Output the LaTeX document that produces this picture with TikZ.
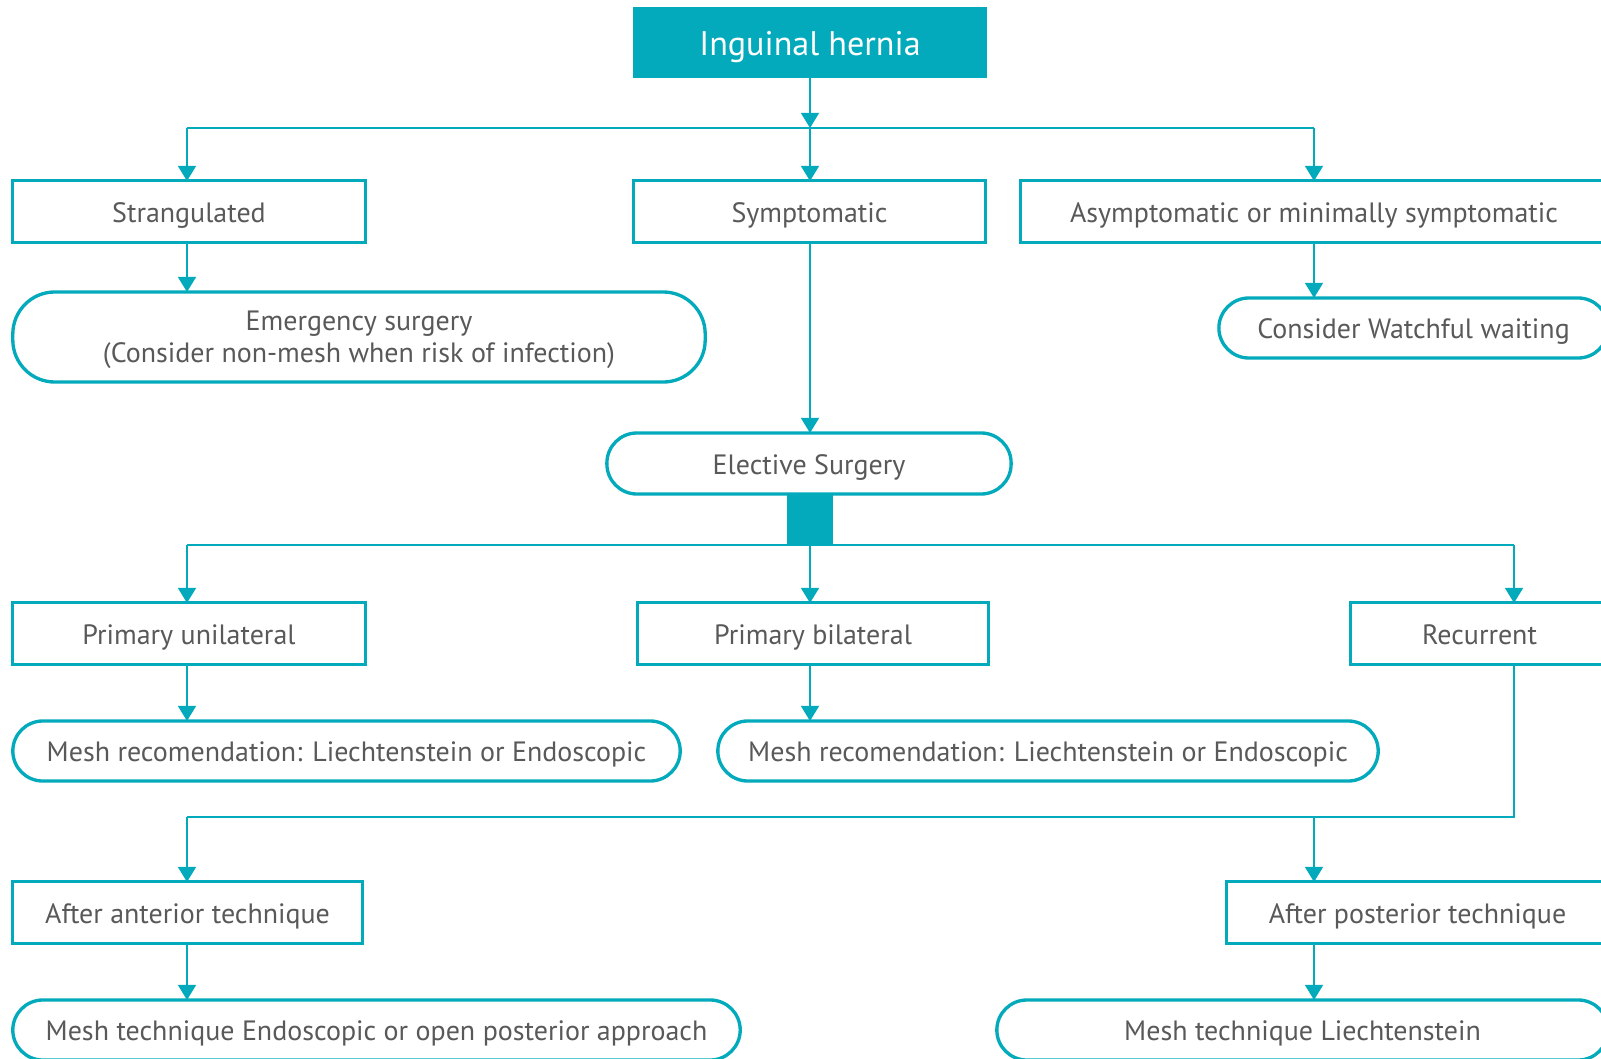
\documentclass[tikz,border=0pt]{standalone}
\usepackage{fontspec}
\setmainfont{PT Sans}
\usetikzlibrary{arrows.meta}
\definecolor{hteal}{RGB}{3,170,187}
\definecolor{hgray}{RGB}{89,89,89}

\begin{document}
\begin{tikzpicture}[x=0.01cm, y=-0.01cm,
  every node/.style={font=\fontsize{7.95}{9.1}\selectfont, text=hgray, inner sep=0pt, outer sep=0pt, text height=0.72em, text depth=0.12em},
  box/.style={draw=hteal, line width=0.85pt, minimum height=0.61cm},
  pill/.style={draw=hteal, line width=0.95pt, rounded corners=0.3cm, minimum height=0.6cm},
  arr/.style={draw=hteal, line width=0.6pt, -{Triangle[width=5.1pt, length=4.3pt]}},
  link/.style={draw=hteal, line width=0.6pt}]
  \useasboundingbox (0,0) rectangle (1601,1058);
  \clip (0,0) rectangle (1601,1058);
  \fill[white] (0,0) rectangle (1601,1058);

  % top
  \node [fill=hteal, minimum width=3.54cm, minimum height=0.71cm, text=white, font=\fontsize{9.7}{12}\selectfont, text depth=0pt] (hernia) at (810, 42.5) {Inguinal hernia};
  \node [box, minimum width=3.52cm] (strang) at (189, 211.5) {Strangulated};
  \node [box, minimum width=3.51cm] (sympt) at (809.5, 211.5) {Symptomatic};
  \node [box, minimum width=5.86cm] (asympt) at (1314, 211.5) {Asymptomatic or minimally symptomatic};
  \node [pill, minimum width=6.92cm, minimum height=0.9cm, rounded corners=0.42cm, align=center, text height=, text depth=0.3pt] (emerg) at (359, 337) {Emergency surgery\\(Consider non-mesh when risk of infection)};
  \node [pill, minimum width=3.89cm] (watch) at (1413.5, 328) {Consider Watchful waiting};
  \node [pill, minimum width=4.04cm, minimum height=0.61cm] (elect) at (809, 463.5) {Elective Surgery};
  \node [fill=hteal, minimum width=0.46cm, minimum height=0.51cm] (knot) at (810, 519.5) {};

  % elective branches
  \node [box, minimum width=3.52cm] (unilat) at (189, 633.5) {Primary unilateral};
  \node [box, minimum width=3.50cm] (bilat) at (813, 633.5) {Primary bilateral};
  \node [box, minimum width=2.57cm] (recur) at (1479.5, 633.5) {Recurrent};
  \node [pill, minimum width=6.67cm] (meshA) at (346.5, 751) {Mesh recomendation: Liechtenstein or Endoscopic};
  \node [pill, minimum width=6.60cm] (meshB) at (1048, 751) {Mesh recomendation: Liechtenstein or Endoscopic};

  % recurrent
  \node [box, minimum width=3.49cm] (anter) at (187.5, 912.5) {After anterior technique};
  \node [box, minimum width=3.81cm] (poster) at (1417.5, 912.5) {After posterior technique};
  \node [pill, minimum width=7.27cm] (endo) at (376.5, 1030) {Mesh technique Endoscopic or open posterior approach};
  \node [pill, minimum width=6.11cm] (liecht) at (1302.5, 1030) {Mesh technique Liechtenstein};

  \coordinate (busA) at (187, 128);
  \coordinate (busB) at (1314, 128);
  \coordinate (busC) at (187, 545);
  \coordinate (busD) at (1514, 545);
  \coordinate (busE) at (187, 817);

  \draw [arr] (hernia) -- (hernia |- busA);
  \draw [link] (busA) -- (busB);
  \draw [arr] (busA) -- (busA |- strang.north);
  \draw [arr] (hernia |- busA) -- (hernia |- sympt.north);
  \draw [arr] (busB) -- (busB |- asympt.north);
  \draw [arr] (busA |- strang.south) -- (busA |- emerg.north);
  \draw [arr] (busB |- asympt.south) -- (busB |- watch.north);
  \draw [arr] (hernia |- sympt.south) -- (hernia |- elect.north);

  \draw [link] (busC) -- (busD);
  \draw [arr] (busC) -- (busC |- unilat.north);
  \draw [arr] (knot.south) -- (knot |- bilat.north);
  \draw [arr] (busD) -- (busD |- recur.north);
  \draw [arr] (busC |- unilat.south) -- (busC |- meshA.north);
  \draw [arr] (knot |- bilat.south) -- (knot |- meshB.north);

  \draw [link] (busD |- recur.south) -- (busD |- busE) -- (busE);
  \draw [arr] (busE) -- (busE |- anter.north);
  \draw [arr] (busB |- busE) -- (busB |- poster.north);
  \draw [arr] (busE |- anter.south) -- (busE |- endo.north);
  \draw [arr] (busB |- poster.south) -- (busB |- liecht.north);
\end{tikzpicture}
\end{document}
